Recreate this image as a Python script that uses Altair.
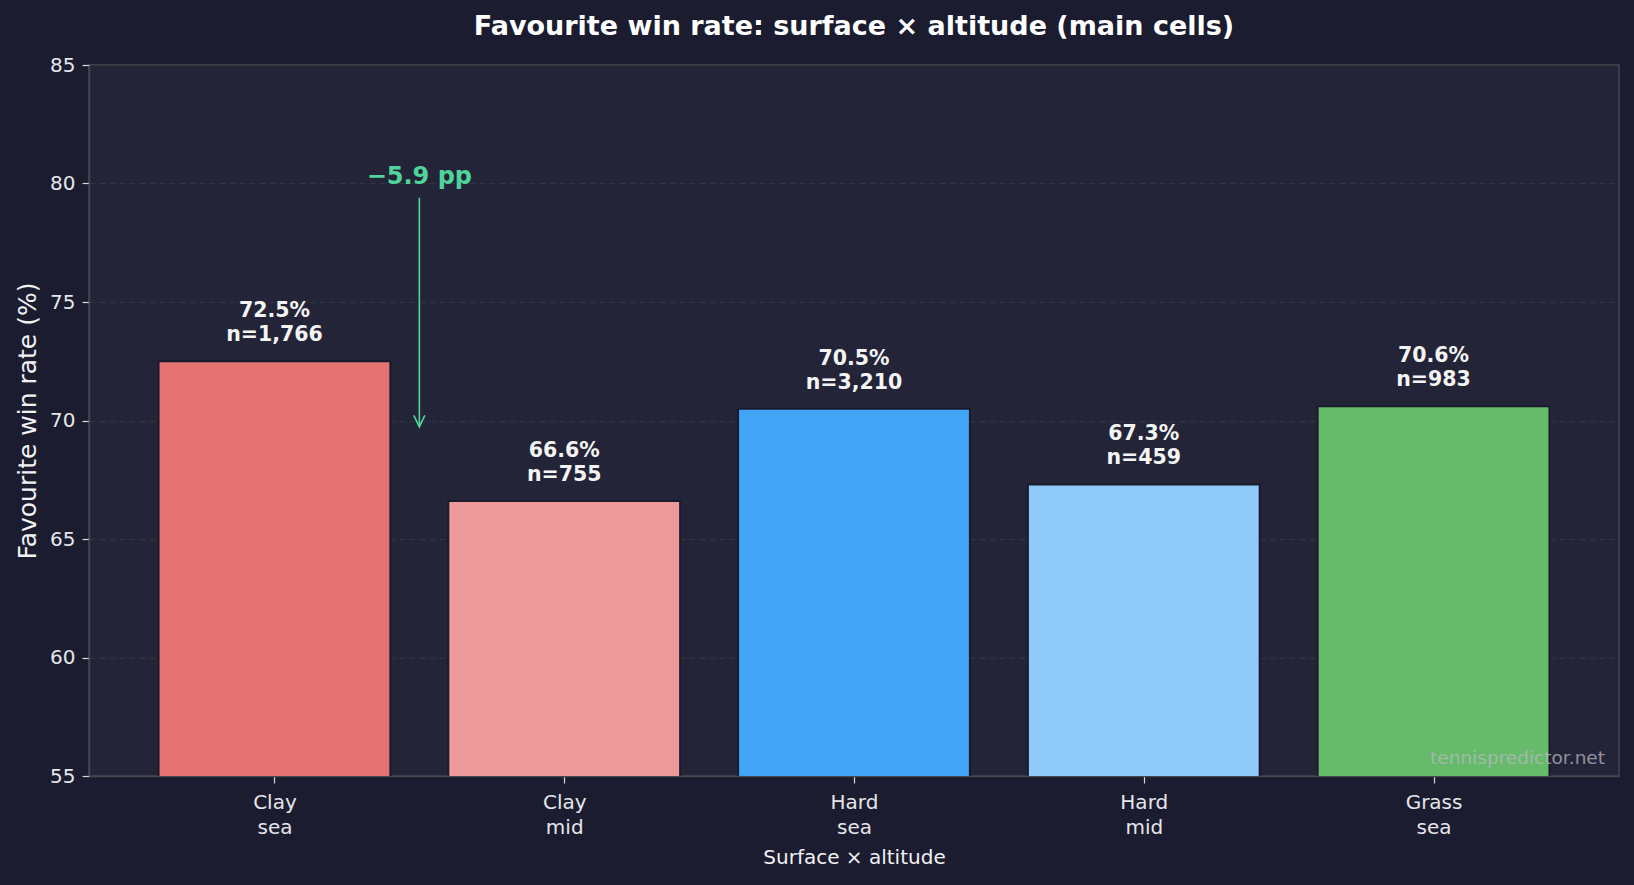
import altair as alt
import pandas as pd

# Favourite win rate by surface and altitude band
surfaces = ["Clay", "Clay", "Hard", "Hard", "Grass"]
altitudes = ["sea", "mid", "sea", "mid", "sea"]
win_rate = [72.5, 66.6, 70.5, 67.3, 70.6]
matches = [1766, 755, 3210, 459, 983]
bar_colors = ["#e57373", "#ef9a9a", "#42a5f5", "#90caf9", "#66bb6a"]

FONT = "DejaVu Sans"
BG = "#1b1c2f"
PANEL = "#232437"
ACCENT = "#4fd49c"

W, H = 1530, 711

df = pd.DataFrame({
    "pos": list(range(len(surfaces))),
    "surface": surfaces,
    "altitude": altitudes,
    "rate": win_rate,
    "n": matches,
    "color": bar_colors,
})

x_scale = alt.Scale(domain=[-0.64, len(surfaces) - 1 + 0.64], nice=False, zero=False)
y_scale = alt.Scale(domain=[55, 85], nice=False, zero=False)

tick_labels = "[" + ",".join(f"['{s}','{a}']" for s, a in zip(surfaces, altitudes)) + "]"

base = alt.Chart(df).transform_calculate(
    x0="datum.pos - 0.4",
    x1="datum.pos + 0.4",
    label="[format(datum.rate, '.1f') + '%', 'n=' + format(datum.n, ',')]",
)

bars = base.mark_bar(stroke="#1a1b2c", strokeWidth=2, clip=True).encode(
    x=alt.X(
        "x0:Q",
        scale=x_scale,
        axis=alt.Axis(
            values=list(range(len(surfaces))),
            labelExpr=f"{tick_labels}[datum.value]",
            grid=False,
            title="Surface × altitude",
            titleX=W / 2,
            titleY=81,
            titleBaseline="middle",
            titleFontSize=20,
            titleFontWeight="normal",
            labelFontSize=20,
            labelLineHeight=25,
            labelPadding=9,
            tickSize=7,
        ),
    ),
    x2="x1:Q",
    y=alt.Y(
        "rate:Q",
        scale=y_scale,
        axis=alt.Axis(
            values=[55, 60, 65, 70, 75, 80, 85],
            format="d",
            title="Favourite win rate (%)",
            titleX=-62,
            titleY=H / 2,
            titleAngle=-90,
            titleBaseline="middle",
            titleAlign="center",
            titleFontSize=25,
            titleFontWeight="normal",
            labelFontSize=20,
            labelPadding=7,
            tickSize=7,
            grid=True,
            gridColor="#34353f",
            gridDash=[6, 4],
            gridWidth=1,
        ),
    ),
    y2=alt.datum(50),
    color=alt.Color("color:N", scale=None, legend=None),
)

bar_text = base.mark_text(
    font=FONT, fontSize=20.5, fontWeight="bold", color="#f4f4f4",
    baseline="bottom", dy=-40, lineHeight=24,
).encode(
    x=alt.X("pos:Q", scale=x_scale),
    y=alt.Y("rate:Q", scale=y_scale),
    text="label:N",
)

# Drop from Clay sea to Clay mid
gap = win_rate[1] - win_rate[0]
note = pd.DataFrame({
    "x": [0.5],
    "y_text": [80.0],
    "y_from": [79.4],
    "y_to": [69.73],
    "text": [f"\u2212{abs(gap):.1f} pp"],
})
note_base = alt.Chart(note)

arrow_line = note_base.mark_rule(color=ACCENT, strokeWidth=1.6).encode(
    x=alt.X("x:Q", scale=x_scale),
    y=alt.Y("y_from:Q", scale=y_scale),
    y2="y_to:Q",
)
arrow_head = note_base.mark_point(
    shape="M-1,-2.1L0,0L1,-2.1", size=121, filled=False,
    color=ACCENT, strokeWidth=1.6, opacity=1,
).encode(
    x=alt.X("x:Q", scale=x_scale),
    y=alt.Y("y_to:Q", scale=y_scale),
)
arrow_text = note_base.mark_text(
    font=FONT, fontSize=24, fontWeight="bold", color=ACCENT,
    baseline="bottom", dy=5,
).encode(
    x=alt.X("x:Q", scale=x_scale),
    y=alt.Y("y_text:Q", scale=y_scale),
    text="text:N",
)

watermark = alt.Chart(pd.DataFrame({"t": ["tennispredictor.net"]})).mark_text(
    font=FONT, fontSize=18.5, color="#b8b8c0", opacity=0.75,
    align="right", baseline="alphabetic",
).encode(
    x=alt.value(W - 14),
    y=alt.value(H - 12),
    text="t:N",
)

chart = alt.layer(
    bars, bar_text, arrow_line, arrow_head, arrow_text, watermark
).properties(
    width=W,
    height=H,
    background=BG,
    padding={"left": 89, "top": 65, "right": 15, "bottom": 109},
    autosize=alt.AutoSizeParams(type="none"),
    title=alt.Title(
        "Favourite win rate: surface × altitude (main cells)",
        font=FONT, fontSize=27, fontWeight="bold", color="#ffffff",
        anchor="middle", offset=14,
    ),
).configure_view(
    fill=PANEL, stroke="#46464f", strokeWidth=1.5,
).configure_axis(
    labelFont=FONT, titleFont=FONT,
    labelColor="#e6e6ea", titleColor="#f2f2f4",
    domainColor="#46464f", domainWidth=1.5,
    tickColor="#d8d8dc", tickWidth=1.2,
)

chart.save("out.html", embed_options={"renderer": "svg", "actions": False})
